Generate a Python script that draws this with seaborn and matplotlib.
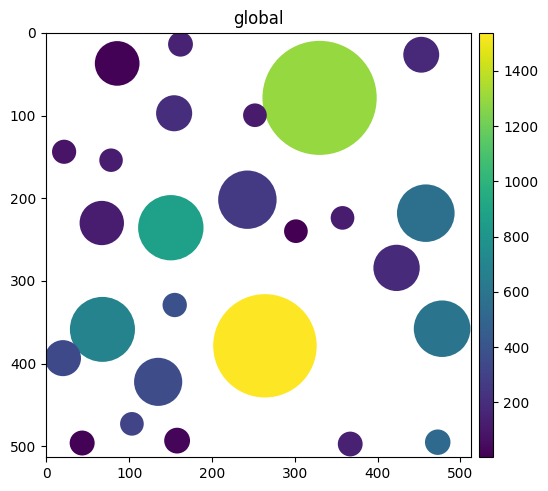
import numpy as np
import matplotlib
matplotlib.use("Agg")
import matplotlib.pyplot as plt
from matplotlib.patches import Circle
from matplotlib.collections import PatchCollection
import seaborn as sns

# circle centres (x, y), radius and value
cx = [85.5, 162, 452.8, 330, 154.3, 251.9, 21.4, 78.1, 66.9, 150.3, 242.8, 301.4, 357.7,
      458.3, 423, 67.7, 155, 264, 478, 20, 135, 103.3, 43.2, 157.9, 367, 472.7]
cy = [36.9, 13.7, 26.4, 78.6, 97.2, 99.6, 143.8, 154, 230, 235.7, 201.8, 239.9, 223.8,
      218.1, 284.3, 358.7, 329.2, 378.6, 357.9, 393.5, 422.2, 473, 496.2, 493.3, 497.4, 495.2]
radius = [27, 15, 21.7, 69, 21.8, 14.3, 14.6, 14.2, 26.8, 39.5, 35.3, 14.3, 14.3,
          34.8, 28, 39.3, 14.7, 62.5, 34.2, 21.8, 29.1, 14.3, 15.1, 15.6, 15, 15.4]
value = [10, 150, 170, 1295, 200, 110, 80, 120, 120, 870, 260, 5, 120,
         560, 185, 690, 385, 1539, 590, 340, 355, 310, 10, 20, 140, 520]

sns.set_style("ticks", {"axes.edgecolor": "black", "xtick.color": "black",
                        "ytick.color": "black", "text.color": "black",
                        "axes.labelcolor": "black"})
plt.rcParams['font.family'] = ['DejaVu Sans']

cmap = sns.color_palette("viridis", as_cmap=True)

fig = plt.figure(figsize=(5.48, 4.91), dpi=100)
ax = fig.add_axes([0.0839, 0.0686, 0.7765, 0.8652])
cax = fig.add_axes([0.874, 0.0686, 0.0261, 0.8652])

circles = [Circle((x, y), r) for x, y, r in zip(cx, cy, radius)]
pc = PatchCollection(circles, cmap=cmap, linewidths=0)
pc.set_array(np.array(value))
pc.set_clim(min(value) - 4, max(value))
ax.add_collection(pc)

ax.set_xlim(-0.5, 513.5)
ax.set_ylim(513.5, -0.5)
ax.set_title("global", fontsize=12)
ax.tick_params(labelsize=10)

cb = fig.colorbar(pc, cax=cax)
cb.ax.tick_params(labelsize=10)

fig.savefig("out.png", dpi=100)
